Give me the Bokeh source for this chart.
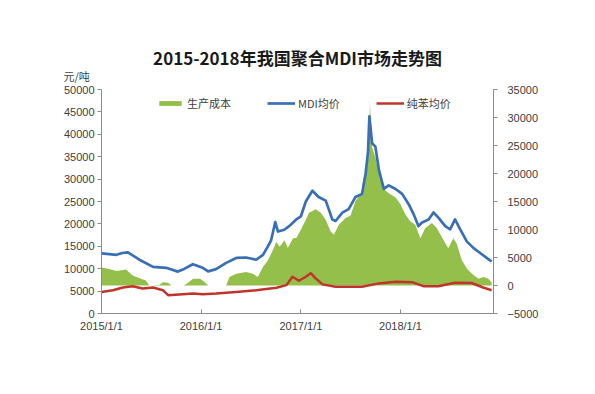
import pandas as pd
from bokeh.plotting import figure
from bokeh.models import Range1d, LinearAxis, FixedTicker, Legend, LegendItem, Title
from bokeh.embed import file_html
from bokeh.resources import INLINE

title_text = "2015-2018年我国聚合MDI市场走势图"
unit_text = "元/吨"
series_names = ["生产成本", "MDI均价", "纯苯均价"]
x_tick_dates = ["2015-01-01", "2016-01-01", "2017-01-01", "2018-01-01"]
x_tick_labels = ["2015/1/1", "2016/1/1", "2017/1/1", "2018/1/1"]
left_ticks = [0, 5000, 10000, 15000, 20000, 25000, 30000, 35000, 40000, 45000, 50000]
right_ticks = [-5000, 0, 5000, 10000, 15000, 20000, 25000, 30000, 35000]

mdi_dates = ["2015-01-01", "2015-01-20", "2015-02-25", "2015-03-18", "2015-04-08", "2015-05-20",
             "2015-07-09", "2015-08-26", "2015-10-08", "2015-10-31", "2015-12-02", "2016-01-07",
             "2016-01-27", "2016-02-25", "2016-04-02", "2016-05-09", "2016-06-14", "2016-07-21",
             "2016-08-15", "2016-09-02", "2016-09-14", "2016-09-29", "2016-10-09", "2016-11-01",
             "2016-11-19", "2016-12-15", "2017-01-01", "2017-01-19", "2017-02-12", "2017-03-07",
             "2017-04-02", "2017-04-26", "2017-05-08", "2017-06-02", "2017-06-25", "2017-07-20",
             "2017-08-13", "2017-08-26", "2017-09-04", "2017-09-09", "2017-09-19", "2017-10-01",
             "2017-10-14", "2017-11-01", "2017-11-19", "2017-12-14", "2018-01-07", "2018-01-31",
             "2018-02-18", "2018-03-08", "2018-03-21", "2018-04-14", "2018-05-02", "2018-05-20",
             "2018-06-14", "2018-07-02", "2018-07-20", "2018-08-08", "2018-09-01", "2018-09-26",
             "2018-10-20", "2018-11-13", "2018-12-01"]
mdi_price = [13400, 13300, 13100, 13500, 13650, 12000,
             10400, 10200, 9350, 9950, 11000, 10200,
             9400, 9900, 11300, 12400, 12500, 12000,
             13100, 15000, 16400, 20400, 18300, 18700,
             19500, 21000, 21700, 25000, 27400, 26000,
             25200, 21000, 20650, 22500, 23300, 26000,
             26700, 31200, 36000, 44000, 38000, 37250,
             32000, 27800, 28600, 27800, 26700, 24400,
             22200, 19500, 20300, 21000, 22550, 21400,
             19500, 18800, 21000, 18800, 16100, 14600,
             13500, 12400, 11600]

benzene_dates = ["2015-01-01", "2015-02-12", "2015-03-20", "2015-04-25", "2015-06-01", "2015-07-09",
                 "2015-08-14", "2015-09-02", "2015-10-13", "2015-12-03", "2016-01-07", "2016-02-25",
                 "2016-05-09", "2016-07-21", "2016-10-03", "2016-11-09", "2016-12-01", "2016-12-25",
                 "2017-01-19", "2017-02-06", "2017-02-24", "2017-03-21", "2017-05-08", "2017-08-13",
                 "2017-10-14", "2017-12-14", "2018-02-12", "2018-03-26", "2018-05-20", "2018-07-20",
                 "2018-09-19", "2018-10-31", "2018-12-01"]
benzene_price = [4800, 5200, 5800, 6100, 5600, 5800,
                 5200, 4100, 4230, 4450, 4300, 4450,
                 4800, 5200, 5730, 6330, 8200, 7300,
                 8200, 9000, 7850, 6500, 5950, 5950,
                 6720, 7080, 7000, 6100, 6100, 6850,
                 6800, 5800, 5200]

cost_dates = ["2015-01-01", "2015-01-25", "2015-02-25", "2015-04-01", "2015-04-25", "2015-05-26",
              "2015-06-13", "2015-06-25", "2015-07-31", "2015-08-14", "2015-09-02", "2015-09-14",
              "2015-10-29", "2015-11-09", "2015-12-03", "2015-12-28", "2016-01-15", "2016-01-27",
              "2016-04-02", "2016-04-14", "2016-05-09", "2016-06-14", "2016-07-09", "2016-07-27",
              "2016-08-15", "2016-09-02", "2016-09-20", "2016-10-03", "2016-10-15", "2016-11-02",
              "2016-11-14", "2016-12-03", "2016-12-15", "2017-01-01", "2017-01-19", "2017-01-31",
              "2017-02-24", "2017-03-15", "2017-04-02", "2017-04-20", "2017-05-02", "2017-05-20",
              "2017-06-14", "2017-07-02", "2017-07-20", "2017-08-08", "2017-08-26", "2017-09-07",
              "2017-09-11", "2017-09-19", "2017-10-01", "2017-10-20", "2017-11-07", "2017-11-25",
              "2017-12-14", "2018-01-01", "2018-01-19", "2018-02-06", "2018-02-24", "2018-03-15",
              "2018-04-02", "2018-04-26", "2018-05-14", "2018-06-07", "2018-06-25", "2018-07-14",
              "2018-07-26", "2018-08-14", "2018-09-02", "2018-09-20", "2018-10-14", "2018-11-01",
              "2018-11-19", "2018-12-01"]
cost_value = [3200, 3000, 2600, 2850, 1800, 1200,
              900, 0, 100, 600, 500, 0,
              0, 300, 1200, 1200, 600, 0,
              0, 1500, 2100, 2400, 2100, 1500,
              3300, 4500, 6300, 7800, 6900, 8100,
              6700, 8450, 8500, 9950, 11760, 13000,
              13600, 13000, 11760, 9650, 9050, 10860,
              12070, 12500, 15080, 16300, 19300, 23500,
              32600, 24700, 22900, 18700, 16900, 16300,
              15700, 14500, 12700, 11460, 10860, 8450,
              10260, 11170, 10260, 8150, 6640, 8450,
              7500, 4500, 3000, 2100, 1200, 1500,
              1200, 600]


def ms(dates):
    return [int((pd.Timestamp(d) - pd.Timestamp("1970-01-01")) // pd.Timedelta(milliseconds=1)) for d in dates]


x_start, x_end = ms(["2015-01-01", "2018-12-08"])

p = figure(frame_width=392, frame_height=224,
           min_border_left=101, min_border_right=62, min_border_top=89, min_border_bottom=45,
           x_range=Range1d(x_start, x_end), y_range=Range1d(0, 50000),
           output_backend="svg", toolbar_location=None, y_axis_location="left")
p.extra_y_ranges = {"right": Range1d(-5000, 35000)}
p.outline_line_color = None
p.grid.visible = False
p.background_fill_color = "white"
p.border_fill_color = "white"

AXIS_COLOR = "#8c8c8c"
LABEL_COLOR = "#404040"
NUM_FONT = "Liberation Sans"
CJK_FONT = "Noto Sans CJK SC"

r_cost = p.varea(x=ms(cost_dates), y1=[0] * len(cost_value), y2=cost_value,
                 fill_color="#93bf4a", y_range_name="right")
r_benz = p.line(x=ms(benzene_dates), y=benzene_price, line_color="#c0342c", line_width=2.5,
                line_join="round")
r_mdi = p.line(x=ms(mdi_dates), y=mdi_price, line_color="#3a6fb7", line_width=2.7,
               line_join="round")

right_axis = LinearAxis(y_range_name="right")
p.add_layout(right_axis, "right")

xa = p.xaxis[0]
xa.ticker = FixedTicker(ticks=ms(x_tick_dates))
xa.major_label_overrides = {t: lab for t, lab in zip(ms(x_tick_dates), x_tick_labels)}
xa.major_tick_in = 4
xa.major_tick_out = 0

la = p.yaxis[0]
la.ticker = FixedTicker(ticks=left_ticks)
right_axis.ticker = FixedTicker(ticks=right_ticks)

for ax in (xa, la, right_axis):
    ax.axis_line_color = AXIS_COLOR
    ax.major_tick_line_color = AXIS_COLOR
    ax.minor_tick_line_color = None
    ax.major_label_text_font = NUM_FONT
    ax.major_label_text_font_size = "11px"
    ax.major_label_text_color = LABEL_COLOR
for ax in (la, right_axis):
    ax.major_tick_in = 0
    ax.major_tick_out = 4
la.major_label_standoff = 3
right_axis.major_label_standoff = 10
xa.major_label_standoff = 6

legend = Legend(items=[LegendItem(label=series_names[0], renderers=[r_cost]),
                       LegendItem(label=series_names[1], renderers=[r_mdi]),
                       LegendItem(label=series_names[2], renderers=[r_benz])],
                orientation="horizontal", location=(55, 202),
                border_line_color=None, background_fill_alpha=0,
                label_text_font=CJK_FONT, label_text_font_size="11px",
                label_text_color=LABEL_COLOR, glyph_width=28, glyph_height=6,
                label_height=14, label_standoff=3, spacing=36, padding=0, margin=0)
p.add_layout(legend)

# main title (outer row)
p.title.text = title_text
p.title.align = "center"
p.title.text_font = CJK_FONT
p.title.text_font_size = "17px"
p.title.text_font_style = "bold"
p.title.text_color = "#1a1a1a"
p.title.standoff = -20

# unit label (row nearest the frame)
p.add_layout(Title(text=unit_text, align="left", offset=-38, text_font=CJK_FONT,
                   text_font_size="11px", text_font_style="normal", text_color=LABEL_COLOR,
                   text_line_height=0.6, standoff=12), "above")

open("out.html", "w").write(file_html(p, INLINE))
